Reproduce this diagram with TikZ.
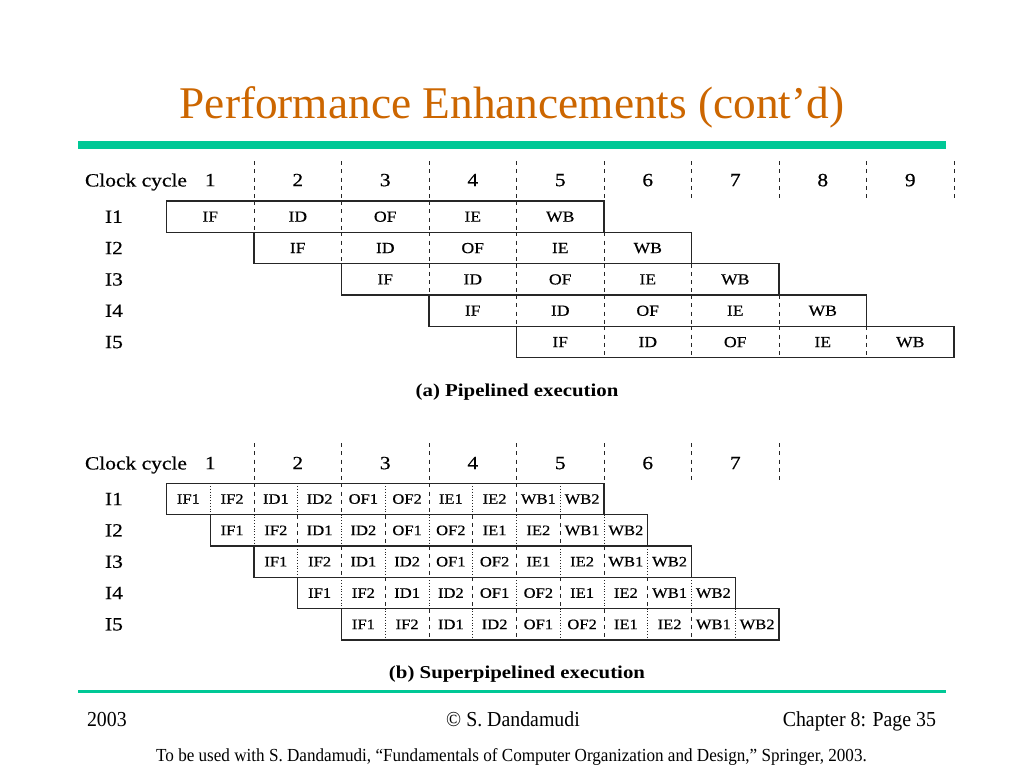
\documentclass[tikz,border=0pt]{standalone}
\usepackage{fontspec}
\setmainfont{Liberation Serif}
\newfontfamily\figfont[FakeStretch=1.15]{Liberation Serif}
\newfontfamily\cellfont[FakeStretch=1.15,FakeBold=0.5]{Liberation Serif}
\newfontfamily\footfont[FakeStretch=0.93]{Liberation Serif}
\definecolor{titleorange}{RGB}{204,102,0}
\definecolor{rulegreen}{RGB}{0,200,150}

\begin{document}
\begin{tikzpicture}[x=0.75pt,y=-0.75pt,
  every node/.style={inner sep=0pt,outer sep=0pt},
  hdr/.style={font=\cellfont\fontsize{14}{14}\selectfont,text depth=0pt},
  rowlbl/.style={font=\cellfont\fontsize{14}{14}\selectfont,text depth=0pt,anchor=west},
  fullcell/.style={minimum width=65.625pt,minimum height=23.5pt,text depth=0pt,
    font=\cellfont\fontsize{11.5}{11.5}\selectfont},
  halfcell/.style={minimum width=32.8125pt,minimum height=23.5pt,text depth=0pt,
    font=\cellfont\fontsize{10.8}{10.8}\selectfont},
  box/.style={draw=black!85,line width=0.9pt},
  stagesep/.style={draw=black!85,line width=0.7pt,dash pattern=on 3pt off 3.2pt},
  subsep/.style={draw=black!85,line width=0.7pt,dash pattern=on 0.7pt off 1.4pt},
  caption/.style={font=\figfont\bfseries\fontsize{13.6}{13.6}\selectfont},
  foot/.style={font=\footfont\fontsize{16}{16}\selectfont,anchor=base}]

\fill[white] (0,0) rectangle (1024,768);
\useasboundingbox (0,0) rectangle (1024,768);

% title and rules
\node[font=\fontsize{34}{34}\selectfont,text=titleorange,anchor=base] (title) at (512,118.3)
  {Performance Enhancements (cont’d)};
\fill[rulegreen] (78,141) rectangle (946,149);
\fill[rulegreen] (78,690) rectangle (946,693.3);

% (a) pipelined
\node[hdr,anchor=west] (clka) at (85,180) {Clock cycle};
\foreach \c in {1,...,9} {
  \node[hdr] (cyca\c) at ({122.75+87.5*\c},180) {\c};
  \draw[stagesep] ({166.5+87.5*\c},161) -- ({166.5+87.5*\c},201);
}
\foreach \r in {1,...,5} {
  \pgfmathsetmacro\ya{216.67+31.34*(\r-1)}
  \node[rowlbl] (pa-l\r) at (105,\ya) {I\r};
  \foreach \s [count=\k] in {IF,ID,OF,IE,WB}
    \node[fullcell] (pa-\r-\k) at ({210.25+87.5*(\r+\k-2)},\ya) {\s};
  \draw[box] (pa-\r-1.north west) rectangle (pa-\r-5.south east);
  \foreach \k in {1,...,4}
    \draw[stagesep] (pa-\r-\k.north east) -- (pa-\r-\k.south east);
}
\node[caption] (capa) at (517,392) {(a) Pipelined execution};

% (b) superpipelined
\node[hdr,anchor=west] (clkb) at (85,463) {Clock cycle};
\foreach \c in {1,...,7} {
  \node[hdr] (cycb\c) at ({122.75+87.5*\c},463) {\c};
  \draw[stagesep] ({166.5+87.5*\c},443) -- ({166.5+87.5*\c},483.3);
}
\foreach \r in {1,...,5} {
  \pgfmathsetmacro\yb{498.97+31.34*(\r-1)}
  \node[rowlbl] (pb-l\r) at (105,\yb) {I\r};
  \foreach \s [count=\k] in {IF1,IF2,ID1,ID2,OF1,OF2,IE1,IE2,WB1,WB2}
    \node[halfcell] (pb-\r-\k) at ({188.375+43.75*(\r+\k-2)},\yb) {\s};
  \draw[box] (pb-\r-1.north west) rectangle (pb-\r-10.south east);
  \foreach \k in {1,3,...,9}
    \draw[subsep] (pb-\r-\k.north east) -- (pb-\r-\k.south east);
  \foreach \k in {2,4,...,8}
    \draw[stagesep] (pb-\r-\k.north east) -- (pb-\r-\k.south east);
}
\node[caption] (capb) at (517,674) {(b) Superpipelined execution};

% footer
\node[foot,anchor=base west] (year) at (87,726) {2003};
\node[foot] (author) at (513,726) {© S. Dandamudi};
\node[foot,anchor=base east] (page) at (936,726) {Chapter 8: Page 35};
\node[foot,font=\footfont\fontsize{13.8}{13.8}\selectfont] (book) at (511.5,761)
  {To be used with S. Dandamudi, “Fundamentals of Computer Organization and Design,” Springer, 2003.};
\end{tikzpicture}
\end{document}
